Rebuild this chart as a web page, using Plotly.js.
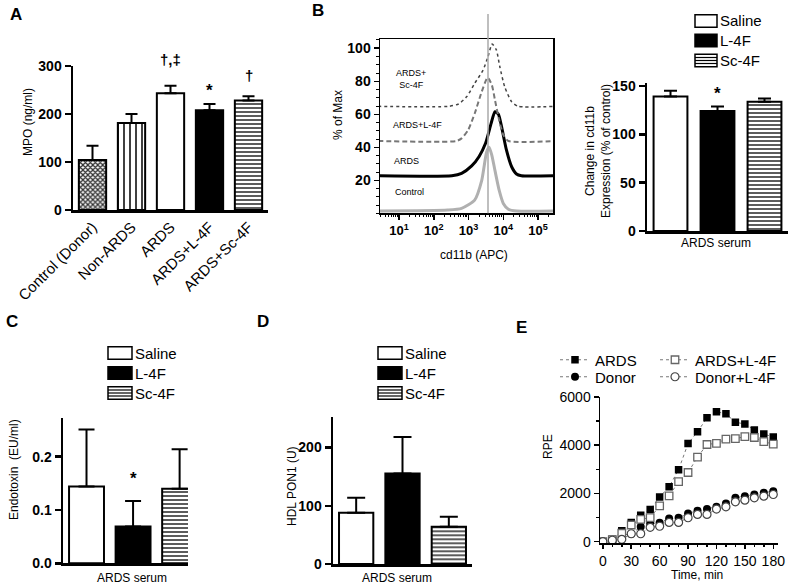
<!DOCTYPE html>
<html>
<head>
<meta charset="utf-8">
<script src="https://cdn.plot.ly/plotly-3.0.1.min.js"></script>
<style>html,body{margin:0;padding:0;background:#fff;}#chart{width:792px;height:586px;}</style>
</head>
<body>
<div id="chart"></div>
<script>
// ---------- DATA ----------
// Panel A: MPO
var mpoCategories = ['Control (Donor)', 'Non-ARDS', 'ARDS', 'ARDS+L-4F', 'ARDS+Sc-4F'];
var mpoValues = [104, 181, 243, 208, 228];
var mpoErrors = [30, 19, 16, 13, 9];

// Panel B: flow histogram (cd11b APC, % of Max)
var histControlX = [2.5, 250, 630, 1500, 2400, 3300, 3900, 4700, 5750, 7600, 10000, 14000, 24500, 300000];
var histControlY = [1.4, 2, 3, 8, 20, 37, 40, 35, 26, 14, 6, 2.5, 1.4, 1.4];
var histArdsX = [2.5, 331, 631, 1230, 1995, 3090, 4467, 5754, 7244, 8913, 12303, 17378, 23988, 33113, 300000];
var histArdsY = [22.8, 22.8, 24.2, 28.7, 34.3, 42.4, 54.5, 61.6, 60, 52.5, 38.4, 28.2, 23.8, 22.8, 22.8];
var histL4FX = [2.5, 447, 631, 977, 1514, 2399, 3548, 4677, 5754, 7586, 10000, 14125, 300000];
var histL4FY = [43.8, 43.8, 45.4, 50.5, 60.6, 73.7, 82.2, 77.8, 68.7, 56.5, 47.5, 43.8, 43.8];
var histSc4FX = [2.5, 263, 513, 891, 1514, 2630, 3631, 4786, 6310, 7943, 10965, 17378, 26915, 300000];
var histSc4FY = [64.8, 64.8, 66.2, 70.7, 78.8, 86.8, 94.9, 102.6, 99, 88.8, 76.7, 67.6, 64.8, 64.8];
var histGateX = 3630;
var histTickVals = [10, 100, 1000, 10000, 100000];
var histTickText = ['10<sup>1</sup>', '10<sup>2</sup>', '10<sup>3</sup>', '10<sup>4</sup>', '10<sup>5</sup>'];

// Treatment groups (B bars, C, D)
var groups = ['Saline', 'L-4F', 'Sc-4F'];
var cd11bValues = [139, 124, 133.5];
var cd11bErrors = [6, 4.7, 3.5];
var endotoxinValues = [0.144, 0.069, 0.14];
var endotoxinErrors = [0.107, 0.048, 0.074];
var pon1Values = [88, 155.5, 64];
var pon1Errors = [25.7, 62.5, 17];

// Panel E: RPE over time
var timeMin = [0, 10, 20, 30, 40, 50, 60, 70, 80, 90, 100, 110, 120, 130, 140, 150, 160, 170, 180];
var rpeArds = [0, 105, 450, 795, 1100, 1340, 1850, 2280, 2985, 4068, 4560, 5135, 5390, 5305, 4955, 4880, 4630, 4465, 4340];
var rpeDonor = [0, 60, 277, 320, 621, 758, 786, 965, 993, 1172, 1282, 1351, 1448, 1586, 1820, 1889, 1958, 2027, 2096];
var rpeArdsL4F = [0, 90, 350, 693, 930, 997, 1483, 1898, 2492, 2870, 3510, 4030, 4080, 4252, 4275, 4356, 4320, 4148, 4044];
var rpeDonorL4F = [0, 60, 100, 330, 330, 598, 640, 800, 800, 993, 1130, 1130, 1351, 1448, 1655, 1724, 1820, 1889, 1958];

// ---------- HELPERS (layout only) ----------
var W = 792, H = 586;
function PX(x) { return x / W; }
function PY(y) { return 1 - y / H; }
var FONT = 'Arial, "Liberation Sans", sans-serif';

var groupFill = ['#ffffff', '#000000', '#ffffff'];
var groupPattern = ['', '', '-'];

// style per MPO bar
var mpoStyle = [
  {color: '#ffffff', pattern: {shape: 'x', fgcolor: '#333', bgcolor: '#fff', size: 3.5, solidity: 0.6}},
  {color: '#ffffff', pattern: {shape: '|', fgcolor: '#000', bgcolor: '#fff', size: 6, solidity: 0.25}},
  {color: '#ffffff', pattern: {shape: ''}},
  {color: '#000000', pattern: {shape: ''}},
  {color: '#ffffff', pattern: {shape: '-', fgcolor: '#000', bgcolor: '#fff', size: 4, solidity: 0.32}}
];

var traces = [];

// Panel A bars
for (var i = 0; i < mpoCategories.length; i++) {
  traces.push({
    type: 'bar', name: mpoCategories[i], x: [mpoCategories[i]], y: [mpoValues[i]], xaxis: 'x', yaxis: 'y', width: 0.7,
    showlegend: false, hoverinfo: 'skip',
    marker: {color: mpoStyle[i].color, line: {color: '#000', width: 2}, pattern: mpoStyle[i].pattern},
    error_y: {type: 'data', symmetric: false, array: [mpoErrors[i]], arrayminus: [0], color: '#000', thickness: 2, width: 6}
  });
}

// Panel B histogram
traces.push({type: 'scatter', mode: 'lines', x: histControlX, y: histControlY, xaxis: 'x2', yaxis: 'y2', showlegend: false, hoverinfo: 'skip',
  line: {color: '#b0b0b0', width: 3, shape: 'spline', smoothing: 0.6}});
traces.push({type: 'scatter', mode: 'lines', x: histArdsX, y: histArdsY, xaxis: 'x2', yaxis: 'y2', showlegend: false, hoverinfo: 'skip',
  line: {color: '#000', width: 3, shape: 'spline', smoothing: 0.6}});
traces.push({type: 'scatter', mode: 'lines', x: histL4FX, y: histL4FY, xaxis: 'x2', yaxis: 'y2', showlegend: false, hoverinfo: 'skip',
  line: {color: '#777', width: 2, dash: '5px,3px', shape: 'spline', smoothing: 0.6}});
traces.push({type: 'scatter', mode: 'lines', x: histSc4FX, y: histSc4FY, xaxis: 'x2', yaxis: 'y2', showlegend: false, hoverinfo: 'skip',
  line: {color: '#444', width: 1.5, dash: 'dot', shape: 'spline', smoothing: 0.6}});

// Group bar panels
function groupBars(values, errors, xa, ya, capW, barW) {
  for (var i = 0; i < groups.length; i++) {
    traces.push({
      type: 'bar', name: groups[i], x: [i], y: [values[i]], xaxis: xa, yaxis: ya, width: barW,
      showlegend: false, hoverinfo: 'skip',
      marker: {color: groupFill[i], line: {color: '#000', width: 2},
               pattern: {shape: groupPattern[i], fgcolor: '#000', bgcolor: '#fff', size: 4, solidity: 0.32}},
      error_y: {type: 'data', symmetric: false, array: [errors[i]], arrayminus: [0], color: '#000', thickness: 2, width: capW}
    });
  }
}
groupBars(cd11bValues, cd11bErrors, 'x3', 'y3', 6.5, 0.72);
groupBars(endotoxinValues, endotoxinErrors, 'x4', 'y4', 8, 0.75);
groupBars(pon1Values, pon1Errors, 'x5', 'y5', 9, 0.74);

// Panel E
var dotLine = {color: '#777', width: 1, dash: 'dot'};
traces.push({type: 'scatter', mode: 'lines+markers', name: 'ARDS', x: timeMin, y: rpeArds, xaxis: 'x6', yaxis: 'y6', legend: 'legend', hoverinfo: 'skip',
  line: dotLine, marker: {symbol: 'square', size: 7.5, color: '#000'}});
traces.push({type: 'scatter', mode: 'lines+markers', name: 'Donor', x: timeMin, y: rpeDonor, xaxis: 'x6', yaxis: 'y6', legend: 'legend2', hoverinfo: 'skip',
  line: dotLine, marker: {symbol: 'circle', size: 8, color: '#000'}});
traces.push({type: 'scatter', mode: 'lines+markers', name: 'ARDS+L-4F', x: timeMin, y: rpeArdsL4F, xaxis: 'x6', yaxis: 'y6', legend: 'legend3', hoverinfo: 'skip',
  line: dotLine, marker: {symbol: 'square', size: 7.5, color: '#fff', line: {color: '#666', width: 1.3}}});
traces.push({type: 'scatter', mode: 'lines+markers', name: 'Donor+L-4F', x: timeMin, y: rpeDonorL4F, xaxis: 'x6', yaxis: 'y6', legend: 'legend4', hoverinfo: 'skip',
  line: dotLine, marker: {symbol: 'circle', size: 8, color: '#fff', line: {color: '#444', width: 1.2}}});

// ---------- AXES ----------
function baseAxis(o) {
  var a = {showgrid: false, zeroline: false, showline: true, linecolor: '#000', fixedrange: true, color: '#000'};
  for (var k in o) a[k] = o[k];
  return a;
}
var boldTick = {family: FONT, size: 14, color: '#000', weight: 'bold'};

var layout = {
  width: W, height: H, margin: {l: 0, r: 0, t: 0, b: 0},
  paper_bgcolor: '#fff', plot_bgcolor: 'rgba(0,0,0,0)',
  font: {family: FONT, color: '#000'},
  barmode: 'overlay', showlegend: true,
  xaxis: baseAxis({domain: [PX(73), PX(268)], anchor: 'y', type: 'category', categoryorder: 'array', categoryarray: mpoCategories,
    range: [-0.5, 4.5], linewidth: 2.5,
    ticks: '', tickangle: -45, tickfont: {family: FONT, size: 15, color: '#000'}}),
  yaxis: baseAxis({domain: [PY(210), PY(66)], anchor: 'x', range: [0, 300], tickvals: [0, 100, 200, 300], linewidth: 2.5,
    ticks: 'outside', ticklen: 6, tickwidth: 2.5, tickfont: boldTick}),

  xaxis2: baseAxis({domain: [PX(380), PX(553)], anchor: 'y2', type: 'log', range: [0.453, 5.43], linewidth: 1.5, mirror: true,
    tickvals: histTickVals, ticktext: histTickText, ticks: 'outside', ticklen: 5, tickwidth: 1.5,
    minor: {ticks: 'outside', ticklen: 2.5, tickwidth: 1, dtick: 'D1'},
    tickfont: {family: FONT, size: 13, color: '#000', weight: 'bold'}}),
  yaxis2: baseAxis({domain: [PY(213.3), PY(39)], anchor: 'x2', range: [0, 105.6], linewidth: 1.5, mirror: true,
    tickvals: [20, 40, 60, 80, 100], ticks: 'outside', ticklen: 5, tickwidth: 1.5,
    minor: {ticks: 'outside', ticklen: 2.5, tickwidth: 1, dtick: 5, tick0: 0},
    tickfont: boldTick}),

  xaxis3: baseAxis({domain: [PX(647), PX(788)], anchor: 'y3', range: [-0.5, 2.5], linewidth: 2.5, ticks: '', showticklabels: false}),
  yaxis3: baseAxis({domain: [PY(231), PY(83)], anchor: 'x3', range: [0, 153], tickvals: [0, 50, 100, 150], linewidth: 2.5,
    ticks: 'outside', ticklen: 6, tickwidth: 2.5, tickfont: boldTick}),

  xaxis4: baseAxis({domain: [PX(63), PX(188)], anchor: 'y4', range: [-0.505, 2.18], linewidth: 2.5, ticks: '', showticklabels: false}),
  yaxis4: baseAxis({domain: [PY(563.3), PY(418)], anchor: 'x4', range: [0, 0.2725], tickvals: [0, 0.1, 0.2], ticktext: ['0.0', '0.1', '0.2'],
    linewidth: 2.5, ticks: 'outside', ticklen: 6, tickwidth: 2.5, tickfont: boldTick}),

  xaxis5: baseAxis({domain: [PX(333), PX(472)], anchor: 'y5', range: [-0.5, 2.5], linewidth: 2.5, ticks: '', showticklabels: false}),
  yaxis5: baseAxis({domain: [PY(564), PY(417.3)], anchor: 'x5', range: [0, 252], tickvals: [0, 100, 200],
    linewidth: 2.5, ticks: 'outside', ticklen: 6, tickwidth: 2.5, tickfont: boldTick}),

  xaxis6: baseAxis({domain: [PX(600), PX(778)], anchor: 'y6', range: [-3, 185], tick0: 0, dtick: 30, linewidth: 1.5,
    ticks: 'outside', ticklen: 4, tickwidth: 1.5, minor: {ticks: 'outside', ticklen: 2, dtick: 10},
    tickfont: {family: FONT, size: 14, color: '#000'}}),
  yaxis6: baseAxis({domain: [PY(543.3), PY(397)], anchor: 'x6', range: [-66, 6000], tickvals: [0, 2000, 4000, 6000], linewidth: 1.5,
    ticks: 'outside', ticklen: 5, tickwidth: 1.5, minor: {ticks: 'outside', ticklen: 3, dtick: 1000, tick0: 0},
    tickfont: {family: FONT, size: 14, color: '#000'}})
};

// Legends for panel E (one entry each, laid out 2x2)
function legendAt(x, y) {
  return {x: PX(x), y: PY(y), xanchor: 'left', yanchor: 'middle', bgcolor: 'rgba(0,0,0,0)', borderwidth: 0,
          font: {family: FONT, size: 15, color: '#000'}, itemwidth: 30};
}
layout.legend = legendAt(555, 360);
layout.legend2 = legendAt(555, 377);
layout.legend3 = legendAt(655, 360);
layout.legend4 = legendAt(655, 377);

// ---------- SHAPES ----------
var shapes = [];
shapes.push({type: 'line', xref: 'x2', yref: 'paper', x0: histGateX, x1: histGateX, y0: PY(213.3), y1: PY(14),
             line: {color: '#aaa', width: 1.5}, layer: 'above'});

function legendBoxes(x0, x1, rows) {
  for (var i = 0; i < rows.length; i++) {
    var yc = rows[i];
    shapes.push({type: 'rect', xref: 'paper', yref: 'paper', x0: PX(x0), x1: PX(x1), y0: PY(yc + 6.2), y1: PY(yc - 6.2),
                 fillcolor: groupFill[i], line: {color: '#000', width: 1.5}});
    if (groupPattern[i] === '-') {
      [-3, 0, 3].forEach(function (d) {
        shapes.push({type: 'line', xref: 'paper', yref: 'paper', x0: PX(x0), x1: PX(x1), y0: PY(yc + d), y1: PY(yc + d),
                     line: {color: '#000', width: 1.2}});
      });
    }
  }
}
var annotations = [];
function legendTexts(x, rows) {
  for (var i = 0; i < rows.length; i++) {
    annotations.push({text: groups[i], xref: 'paper', yref: 'paper', x: PX(x), y: PY(rows[i]), xanchor: 'left', yanchor: 'middle',
                      showarrow: false, font: {family: FONT, size: 15, color: '#000'}});
  }
}
var rowsB = [21, 40.5, 60.5], rowsCD = [353, 373, 393];
legendBoxes(695, 717, rowsB); legendTexts(718, rowsB);
legendBoxes(108, 132, rowsCD); legendTexts(133, rowsCD);
legendBoxes(378, 402, rowsCD); legendTexts(403, rowsCD);
layout.shapes = shapes;

// ---------- ANNOTATIONS ----------
function txt(t, x, y, size, opts) {
  var a = {text: t, xref: 'paper', yref: 'paper', x: PX(x), y: PY(y), showarrow: false, xanchor: 'center', yanchor: 'middle',
           font: {family: FONT, size: size, color: '#000'}};
  if (opts) for (var k in opts) a[k] = opts[k];
  return a;
}
var bold = function (s) { return {family: FONT, size: s, color: '#000', weight: 'bold'}; };
// Panel letters
annotations.push(txt('A', 8, 14.5, 17, {xanchor: 'left', font: bold(17)}));
annotations.push(txt('B', 310, 11, 17, {xanchor: 'left', font: bold(17)}));
annotations.push(txt('C', 4, 321, 17, {xanchor: 'left', font: bold(17)}));
annotations.push(txt('D', 255, 321, 17, {xanchor: 'left', font: bold(17)}));
annotations.push(txt('E', 514, 327, 17, {xanchor: 'left', font: bold(17)}));
// Axis titles
annotations.push(txt('MPO (ng/ml)', 28, 122, 12, {textangle: -90}));
annotations.push(txt('% of Max', 338, 115, 12, {textangle: -90}));
annotations.push(txt('cd11b (APC)', 474, 255, 12));
annotations.push(txt('Change in cd11b<br>Expression (% of control)', 598, 151, 12, {textangle: -90}));
annotations.push(txt('ARDS serum', 716, 243, 12));
annotations.push(txt('Endotoxin  (EU/ml)', 14, 470, 12, {textangle: -90}));
annotations.push(txt('ARDS serum', 132, 578, 12));
annotations.push(txt('HDL PON1 (U)', 292, 486, 12, {textangle: -90}));
annotations.push(txt('ARDS serum', 397, 578, 12));
annotations.push(txt('RPE', 548, 447, 12, {textangle: -90}));
annotations.push(txt('Time, min', 697, 575, 12));
// Histogram labels
annotations.push(txt('ARDS+<br>Sc-4F', 411, 79, 9));
annotations.push(txt('ARDS+L-4F', 417, 125, 9));
annotations.push(txt('ARDS', 406, 161, 9));
annotations.push(txt('Control', 410, 192, 9));
// Significance marks
annotations.push({text: '\u2020,\u2021', xref: 'x', yref: 'paper', x: mpoCategories[2], y: PY(60), showarrow: false, yanchor: 'middle', font: bold(15)});
annotations.push({text: '*', xref: 'x', yref: 'paper', x: mpoCategories[3], y: PY(90), showarrow: false, yanchor: 'middle', font: bold(17)});
annotations.push({text: '\u2020', xref: 'x', yref: 'paper', x: mpoCategories[4], y: PY(75), showarrow: false, yanchor: 'middle', font: bold(15)});
annotations.push({text: '*', xref: 'x3', yref: 'paper', x: 1, y: PY(93), showarrow: false, yanchor: 'middle', font: bold(17)});
annotations.push({text: '*', xref: 'x4', yref: 'paper', x: 1, y: PY(478), showarrow: false, yanchor: 'middle', font: bold(17)});
layout.annotations = annotations;

Plotly.newPlot('chart', traces, layout, {displayModeBar: false, staticPlot: true});
</script>
</body>
</html>
